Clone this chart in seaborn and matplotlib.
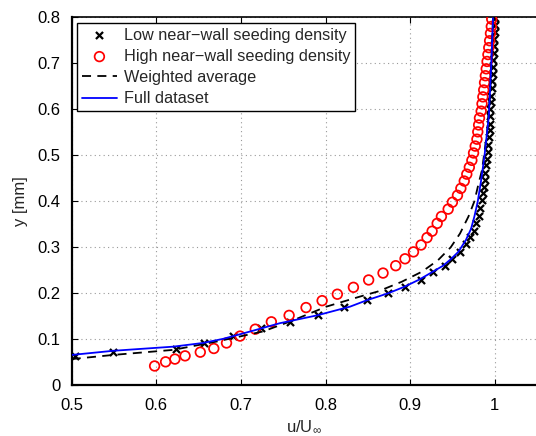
import matplotlib
matplotlib.use("Agg")
import matplotlib.pyplot as plt
import seaborn as sns
import numpy as np

# ---- data ----
# Low near-wall seeding density (crosses)
low_y = [0.064, 0.073, 0.080, 0.093, 0.107, 0.124, 0.138, 0.153, 0.170, 0.185,
         0.200, 0.214, 0.230, 0.246, 0.260, 0.275, 0.290, 0.307, 0.322, 0.336,
         0.352, 0.368, 0.385, 0.403, 0.417, 0.432, 0.447, 0.462, 0.478, 0.493,
         0.508, 0.523, 0.539, 0.554, 0.569, 0.585, 0.600, 0.615, 0.630, 0.646,
         0.661, 0.676, 0.691, 0.707, 0.722, 0.737, 0.753, 0.768, 0.783, 0.798]
low_u = [0.504, 0.549, 0.623, 0.656, 0.691, 0.724, 0.758, 0.791, 0.822, 0.849,
         0.874, 0.894, 0.913, 0.927, 0.941, 0.950, 0.959, 0.966, 0.971, 0.975,
         0.978, 0.981, 0.983, 0.985, 0.986, 0.987, 0.988, 0.989, 0.990, 0.991,
         0.992, 0.992, 0.993, 0.994, 0.994, 0.995, 0.995, 0.996, 0.996, 0.997,
         0.997, 0.998, 0.998, 0.998, 0.999, 0.999, 0.9995, 1.000, 1.000, 1.000]

# High near-wall seeding density (circles)
high_y = [0.042, 0.051, 0.057, 0.064, 0.072, 0.080, 0.092, 0.107, 0.122, 0.138,
          0.152, 0.169, 0.184, 0.198, 0.213, 0.229, 0.244, 0.260, 0.275, 0.290,
          0.305, 0.321, 0.335, 0.352, 0.367, 0.383, 0.398, 0.413, 0.428, 0.444,
          0.459, 0.474, 0.489, 0.505, 0.520, 0.535, 0.551, 0.566, 0.581, 0.596,
          0.612, 0.627, 0.642, 0.658, 0.673, 0.688, 0.704, 0.719, 0.734, 0.749,
          0.765, 0.780, 0.796]
high_u = [0.598, 0.611, 0.622, 0.634, 0.652, 0.668, 0.683, 0.699, 0.717, 0.736,
          0.757, 0.777, 0.796, 0.814, 0.833, 0.851, 0.868, 0.883, 0.894, 0.904,
          0.913, 0.920, 0.926, 0.932, 0.937, 0.945, 0.950, 0.956, 0.960, 0.964,
          0.967, 0.970, 0.973, 0.975, 0.977, 0.979, 0.980, 0.981, 0.982, 0.984,
          0.985, 0.986, 0.987, 0.988, 0.989, 0.990, 0.991, 0.992, 0.993, 0.994,
          0.995, 0.996, 0.9965]

# Weighted average (dashed)
avg_y = [0.057, 0.066, 0.077, 0.095, 0.117, 0.140, 0.171, 0.193, 0.204, 0.225,
         0.247, 0.272, 0.300, 0.330, 0.367, 0.400, 0.439, 0.468, 0.550, 0.650, 0.798]
avg_u = [0.500, 0.549, 0.620, 0.671, 0.726, 0.760, 0.801, 0.841, 0.862, 0.890,
         0.914, 0.933, 0.948, 0.959, 0.969, 0.976, 0.981, 0.985, 0.991, 0.995, 0.998]

# Full dataset (solid blue)
full_y = [0.066, 0.075, 0.084, 0.092, 0.101, 0.118, 0.135, 0.152, 0.171, 0.185,
          0.200, 0.214, 0.230, 0.246, 0.260, 0.274, 0.290, 0.316, 0.340, 0.367,
          0.400, 0.446, 0.500, 0.584, 0.700, 0.798]
full_u = [0.500, 0.549, 0.620, 0.655, 0.679, 0.713, 0.746, 0.790, 0.829, 0.849,
          0.874, 0.893, 0.911, 0.926, 0.939, 0.948, 0.957, 0.966, 0.972, 0.976,
          0.980, 0.984, 0.988, 0.993, 0.996, 0.998]

x_ticks = [0.5, 0.6, 0.7, 0.8, 0.9, 1.0]
x_ticklabels = ["0.5", "0.6", "0.7", "0.8", "0.9", "1"]
y_ticks = [0, 0.1, 0.2, 0.3, 0.4, 0.5, 0.6, 0.7, 0.8]
y_ticklabels = ["0", "0.1", "0.2", "0.3", "0.4", "0.5", "0.6", "0.7", "0.8"]

# ---- style ----
sns.set_style("ticks")
plt.rcParams['font.family'] = ['Liberation Sans', 'DejaVu Sans']
plt.rcParams['mathtext.fontset'] = 'custom'
plt.rcParams['mathtext.rm'] = 'Liberation Sans'
plt.rcParams['mathtext.it'] = 'Liberation Sans'

fig = plt.figure(figsize=(5.36, 4.36), dpi=100)
ax = fig.add_axes([71.7 / 536, (436 - 385.3) / 436, (537 - 71.7) / 536, (385.3 - 17.3) / 436])

sns.scatterplot(x=low_u, y=low_y, marker='x', color='black', s=26, linewidth=1.6,
                label='Low near\u2212wall seeding density', ax=ax, zorder=3)
sns.scatterplot(x=high_u, y=high_y, marker='o', facecolor='none', edgecolor='red', s=48,
                linewidth=1.25, label='High near\u2212wall seeding density', ax=ax, zorder=4)
sns.lineplot(x=avg_u, y=avg_y, sort=False, color='black', linestyle=(0, (5, 3.5)), linewidth=1.3,
             label='Weighted average', ax=ax, zorder=5)
sns.lineplot(x=full_u, y=full_y, sort=False, color='blue', linewidth=1.3,
             label='Full dataset', ax=ax, zorder=6)

ax.set_xlim(0.5, 1.05)
ax.set_ylim(0, 0.8)
ax.set_xticks(x_ticks)
ax.set_xticklabels(x_ticklabels)
ax.set_yticks(y_ticks)
ax.set_yticklabels(y_ticklabels)
ax.tick_params(direction='in', length=4, width=0.8, labelsize=12, top=True, right=False,
               colors='black')
ax.tick_params(axis='x', pad=9)
ax.tick_params(axis='y', pad=8)
ax.grid(True, linestyle=(0, (1, 3)), color='#999999', linewidth=0.8)
for side in ['left', 'bottom']:
    ax.spines[side].set_linewidth(1.6)
    ax.spines[side].set_color('black')
ax.spines['top'].set_linewidth(1.2)
ax.spines['top'].set_color('black')
ax.spines['top'].set_visible(True)
ax.spines['right'].set_visible(False)

ax.set_xlabel(r'u/U$_{\infty}$', fontsize=12, labelpad=4)
ax.set_ylabel('y [mm]', fontsize=12, labelpad=7)

handles, labels = ax.get_legend_handles_labels()
leg = ax.legend(handles, labels, loc='upper left', bbox_to_anchor=(0.0107, 0.985),
                borderaxespad=0, fontsize=11.7, frameon=True, fancybox=False,
                edgecolor='black', framealpha=1, handlelength=2.2, handletextpad=0.4,
                labelspacing=0.38, borderpad=0.3)
leg.get_frame().set_linewidth(1.0)

fig.savefig('out.png', dpi=100)
